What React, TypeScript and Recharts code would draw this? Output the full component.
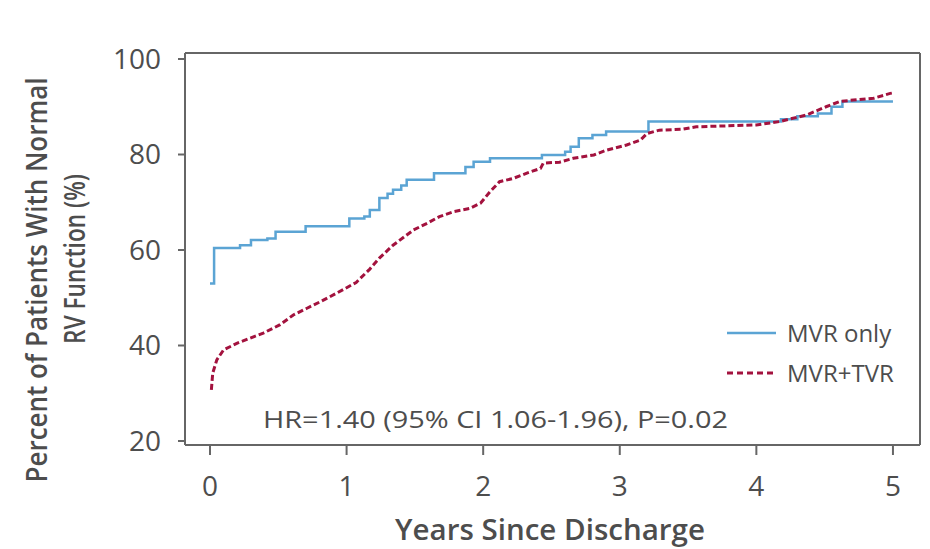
import { LineChart, Line, XAxis, YAxis, ReferenceLine } from 'recharts';

// MVR only (Kaplan-Meier, step curve)
const mvrYears = [0, 0.03, 0.22, 0.3, 0.42, 0.48, 0.7, 1.02, 1.13, 1.17, 1.24, 1.3, 1.34, 1.4, 1.44, 1.64, 1.87, 1.93, 2.05, 2.43, 2.6, 2.64, 2.7, 2.8, 2.9, 3.21, 4.18, 4.3, 4.45, 4.55, 4.63, 5.0];
const mvrPct = [53.0, 60.4, 61.0, 62.1, 62.4, 63.8, 65.0, 66.6, 67.0, 68.4, 70.9, 71.8, 72.6, 73.5, 74.7, 76.1, 77.4, 78.5, 79.2, 79.9, 80.6, 81.6, 83.4, 84.1, 84.8, 86.9, 87.4, 88.0, 88.6, 90.0, 91.1, 91.1];

// MVR+TVR
const tvrYears = [0.01, 0.02, 0.05, 0.1, 0.2, 0.29, 0.39, 0.51, 0.61, 0.71, 0.81, 0.93, 1.07, 1.17, 1.24, 1.34, 1.49, 1.59, 1.68, 1.78, 1.9, 1.98, 2.05, 2.12, 2.22, 2.32, 2.42, 2.44, 2.56, 2.66, 2.81, 2.9, 3.05, 3.15, 3.2, 3.29, 3.46, 3.56, 4.0, 4.17, 4.37, 4.51, 4.61, 4.71, 4.86, 4.98, 5.0];
const tvrPct = [30.7, 34.2, 37.0, 39.1, 40.5, 41.5, 42.6, 44.3, 46.4, 47.8, 49.2, 51.0, 53.2, 56.0, 58.3, 61.0, 64.2, 65.6, 67.0, 68.0, 68.7, 69.8, 72.2, 74.3, 75.0, 76.1, 77.1, 78.2, 78.4, 79.2, 79.9, 80.9, 82.0, 83.0, 84.4, 85.1, 85.3, 85.8, 86.2, 86.9, 88.3, 90.0, 91.1, 91.4, 91.8, 92.8, 92.9];

const xTicks = [0, 1, 2, 3, 4, 5];
const yTicks = [20, 40, 60, 80, 100];
const xDomain = [-0.183, 5.198];
const yDomain = [19.16, 101.26];

const mvrData = mvrYears.map((t, i) => ({ t, v: mvrPct[i] }));
const tvrData = tvrYears.map((t, i) => ({ t, v: tvrPct[i] }));

const BLUE = '#5ba4d4';
const RED = '#a3123e';
const GREY = '#4d4d4d';
const AXIS = '#666';

const tickStyle = { fill: GREY, fontSize: 28, fontFamily: '"Open Sans", sans-serif' };

function LegendBox() {
  const row = (label: string, color: string, dash?: string, w = 2) => (
    <div style={{ display: 'flex', alignItems: 'center', height: 40 }}>
      <svg width={52} height={10} style={{ marginRight: 8 }}>
        <line x1={0} y1={5} x2={49} y2={5} stroke={color} strokeWidth={w} strokeDasharray={dash} />
      </svg>
      <span style={{ color: GREY, fontSize: 24, fontFamily: '"Open Sans", sans-serif', lineHeight: '40px' }}>{label}</span>
    </div>
  );
  return (
    <div style={{ position: 'absolute', left: 727, top: 313 }}>
      {row('MVR only', BLUE, undefined, 2.5)}
      {row('MVR+TVR', RED, '6 4', 3)}
    </div>
  );
}

export default function App() {
  return (
    <div style={{ position: 'absolute', left: 0, top: 0, width: 930, height: 549, background: '#fff' }}>
      <LineChart width={930} height={549} margin={{ top: 53, right: 10, left: 85, bottom: 44 }}>
        <XAxis
          dataKey="t"
          type="number"
          domain={xDomain}
          ticks={xTicks}
          allowDataOverflow
          height={60}
          tickSize={10}
          tickMargin={21}
          tick={tickStyle}
          stroke={AXIS}
          strokeWidth={2}
        />
        <YAxis
          type="number"
          domain={yDomain}
          ticks={yTicks}
          allowDataOverflow
          width={100}
          tickSize={7}
          tickMargin={17}
          tick={tickStyle}
          stroke={AXIS}
          strokeWidth={2}
        />
        <ReferenceLine y={yDomain[1]} stroke={AXIS} strokeWidth={2} />
        <ReferenceLine x={xDomain[1]} stroke={AXIS} strokeWidth={2} />
        <Line
          data={mvrData}
          dataKey="v"
          type="stepAfter"
          stroke={BLUE}
          strokeWidth={2.5}
          dot={false}
          isAnimationActive={false}
        />
        <Line
          data={tvrData}
          dataKey="v"
          type="linear"
          stroke={RED}
          strokeWidth={3}
          strokeDasharray="6 3"
          dot={false}
          isAnimationActive={false}
        />
        <text x={263} y={428} fill={GREY} fontSize={23} fontFamily='"Open Sans", sans-serif' textLength={465} lengthAdjust="spacingAndGlyphs">
          HR=1.40 (95% CI 1.06-1.96), P=0.02
        </text>
        <text x={550} y={540} textAnchor="middle" fill={GREY} fontSize={29} fontWeight={600} fontFamily='"Open Sans", sans-serif' textLength={310} lengthAdjust="spacingAndGlyphs">
          Years Since Discharge
        </text>
        <text transform="translate(47, 280) rotate(-90)" textAnchor="middle" fill={GREY} fontSize={28} fontWeight={600} fontFamily='"Open Sans", sans-serif' textLength={405} lengthAdjust="spacingAndGlyphs">
          Percent of Patients With Normal
        </text>
        <text transform="translate(85, 259) rotate(-90)" textAnchor="middle" fill={GREY} fontSize={28} fontWeight={600} fontFamily='"Open Sans", sans-serif' textLength={170} lengthAdjust="spacingAndGlyphs">
          RV Function (%)
        </text>
      </LineChart>
      <LegendBox />
    </div>
  );
}
